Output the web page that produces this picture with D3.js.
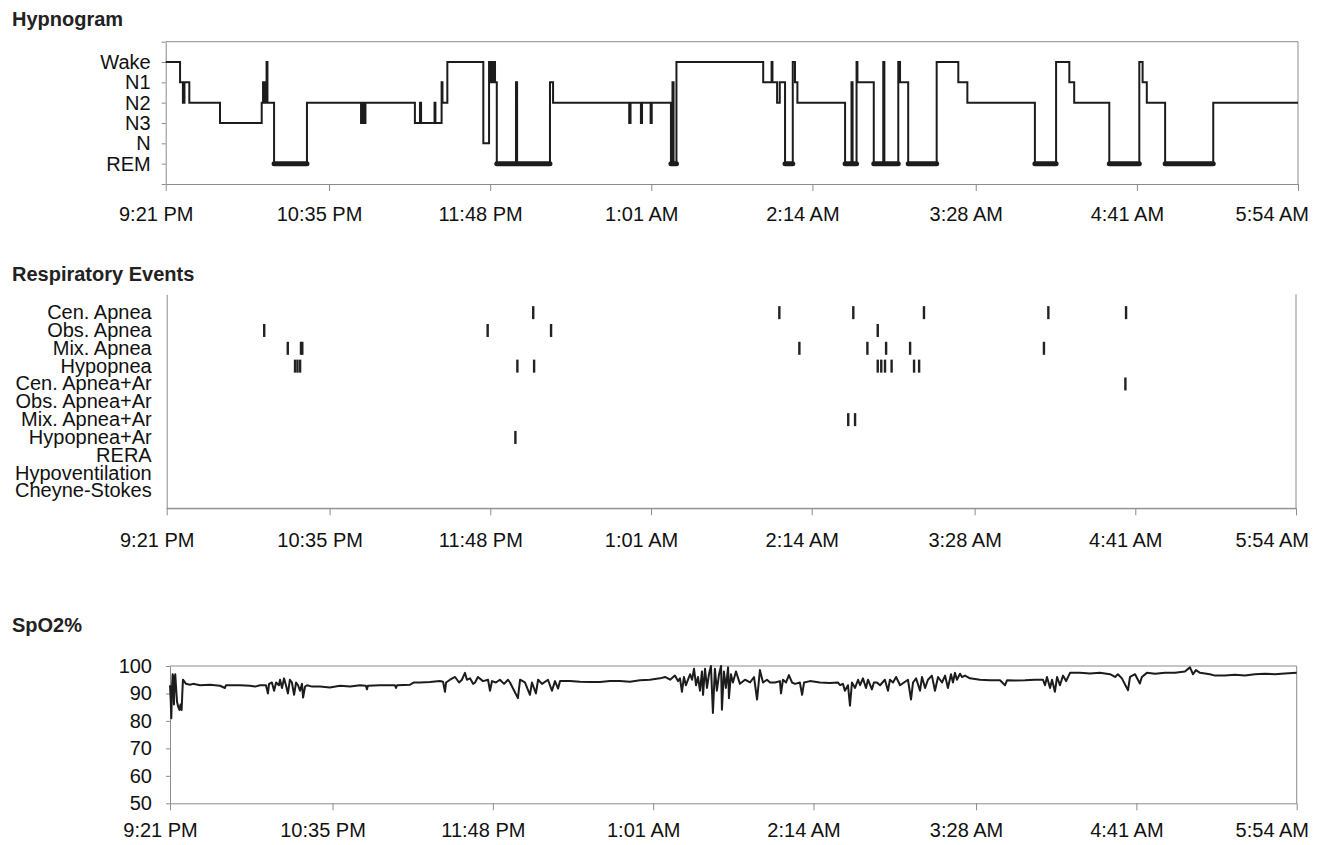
<!DOCTYPE html>
<html>
<head>
<meta charset="utf-8">
<script src="https://cdn.jsdelivr.net/npm/d3@7"></script>
<style>
body { margin: 0; background: #fff; }
text { font-family: "Liberation Sans", Arial, Helvetica, sans-serif; fill: #111; }
</style>
</head>
<body>
<script>
// time axis: minutes after 9:21 PM
var timeLabels = ["9:21 PM", "10:35 PM", "11:48 PM", "1:01 AM", "2:14 AM", "3:28 AM", "4:41 AM", "5:54 AM"];
var timeTicks = [0, 74, 147, 220, 293, 367, 440, 513];

// hypnogram, bottom to top
var stageNames = ["REM", "N", "N3", "N2", "N1", "Wake"];
var hypnogram = [
  [0, "Wake"], [6.5, "N1"], [7.8, "N2"], [8.5, "N1"], [10.7, "N2"], [24.6, "N3"],
  [43.5, "N2"], [44.1, "N1"], [44.8, "N2"], [45.2, "N1"], [45.7, "Wake"], [46.1, "N2"],
  [49.1, "REM"], [64.0, "N2"], [88.5, "N3"], [89.2, "N2"], [89.8, "N3"], [90.5, "N2"],
  [112.9, "N3"], [115.2, "N2"], [115.7, "N3"], [121.8, "N2"], [122.2, "N3"],
  [125.0, "N1"], [125.4, "N2"], [127.6, "Wake"], [143.9, "N"], [146.5, "Wake"],
  [147.2, "N1"], [147.6, "Wake"], [148.3, "N1"], [148.7, "Wake"], [149.2, "N1"],
  [150.0, "REM"], [158.7, "N1"], [159.2, "REM"], [174.1, "N1"], [175.5, "N2"],
  [210.0, "N3"], [210.6, "N2"], [215.3, "N3"], [215.8, "N2"], [219.7, "N3"], [220.2, "N2"],
  [228.9, "REM"], [229.6, "N1"], [230.1, "REM"], [231.4, "Wake"], [270.7, "N1"],
  [274.5, "Wake"], [274.9, "N1"], [277.0, "N2"], [278.2, "N1"], [280.6, "REM"],
  [284.1, "Wake"], [285.1, "N1"], [286.2, "N2"], [307.8, "REM"], [310.7, "N1"],
  [311.2, "REM"], [313.0, "Wake"], [313.4, "N1"], [320.8, "REM"], [325.1, "Wake"],
  [325.6, "REM"], [331.9, "Wake"], [332.7, "N1"], [336.4, "REM"], [349.3, "Wake"],
  [359.1, "N1"], [363.2, "N2"], [393.8, "REM"], [403.4, "Wake"], [409.4, "N1"],
  [411.6, "N2"], [427.5, "REM"], [441.1, "Wake"], [442.6, "N1"], [444.5, "N2"],
  [452.8, "REM"], [474.6, "N2"], [513, "N2"]
];

// respiratory events, top to bottom
var eventTypes = ["Cen. Apnea", "Obs. Apnea", "Mix. Apnea", "Hypopnea", "Cen. Apnea+Ar",
  "Obs. Apnea+Ar", "Mix. Apnea+Ar", "Hypopnea+Ar", "RERA", "Hypoventilation", "Cheyne-Stokes"];
var events = [
  ["Cen. Apnea", 166.5], ["Cen. Apnea", 278.3], ["Cen. Apnea", 311.9], ["Cen. Apnea", 344.0],
  ["Cen. Apnea", 400.5], ["Cen. Apnea", 435.8],
  ["Obs. Apnea", 44.3], ["Obs. Apnea", 145.8], ["Obs. Apnea", 174.6], ["Obs. Apnea", 323.0],
  ["Mix. Apnea", 55.0], ["Mix. Apnea", 61.0], ["Mix. Apnea", 61.6], ["Mix. Apnea", 287.4],
  ["Mix. Apnea", 318.3], ["Mix. Apnea", 326.8], ["Mix. Apnea", 337.7], ["Mix. Apnea", 398.5],
  ["Hypopnea", 58.3], ["Hypopnea", 59.4], ["Hypopnea", 60.6], ["Hypopnea", 159.3],
  ["Hypopnea", 166.9], ["Hypopnea", 323.0], ["Hypopnea", 324.6], ["Hypopnea", 326.3],
  ["Hypopnea", 329.3], ["Hypopnea", 339.5], ["Hypopnea", 341.8],
  ["Cen. Apnea+Ar", 435.5],
  ["Mix. Apnea+Ar", 309.6], ["Mix. Apnea+Ar", 312.7],
  ["Hypopnea+Ar", 158.4]
];

// SpO2 %
var spo2Ticks = [50, 60, 70, 80, 90, 100];
var spo2 = [
  [0, 93], [0.3, 88], [0.6, 81], [0.9, 92], [1.2, 97], [1.5, 96], [1.8, 86], [2.1, 95],
  [2.4, 97], [2.7, 93], [3.2, 87], [3.8, 85], [4.3, 84], [4.8, 86], [5.3, 84], [5.6, 90],
  [5.9, 95], [6.4, 94.5], [7.3, 93.5], [9.1, 93.2], [10.5, 93.5], [13.7, 93], [18.2, 93.2],
  [22.8, 92.8], [25.0, 92], [25.5, 93], [31.9, 93], [36.4, 92.8], [38.7, 92.5], [41.0, 93],
  [43.7, 93], [44.6, 90], [45.1, 93.5], [46.4, 94], [47.4, 91], [48.3, 94], [49.6, 93],
  [50.1, 95], [51.0, 92], [51.9, 95.5], [52.8, 93], [53.7, 90], [54.6, 95], [55.5, 94],
  [56.5, 89.5], [57.4, 94], [58.3, 93], [59.2, 91], [60.1, 93.5], [60.6, 88.5], [61.5, 92.5],
  [62.4, 93], [64.7, 92.5], [68.3, 92.5], [72.8, 92.2], [77.4, 92.8], [82.0, 92.5],
  [86.5, 93], [89.2, 92.8], [89.7, 91.5], [90.1, 92.8], [95.6, 93], [102.4, 93], [102.9, 92],
  [103.4, 93], [109.3, 93.2], [111.1, 94], [113.8, 94], [118.4, 94.2], [122.9, 94.5],
  [124.3, 94.3], [125.2, 90.6], [125.7, 94], [127.5, 95], [129.8, 96], [131.6, 94],
  [132.9, 95], [134.3, 97.5], [135.2, 95], [136.6, 95.5], [138.0, 93.5], [138.9, 94],
  [140.2, 96], [142.5, 94.5], [144.8, 95], [145.7, 91], [146.6, 94.5], [148.4, 94],
  [150.2, 95], [152.1, 93.5], [153.9, 95], [154.8, 94], [158.4, 88.3], [159.4, 95],
  [161.6, 94], [163.9, 89.5], [164.8, 94], [166.6, 90], [167.6, 95], [169.4, 93.5],
  [172.1, 95], [173.9, 91], [175.3, 94.5], [176.7, 91.8], [177.6, 94.5], [182.1, 94.5],
  [186.7, 94.3], [191.2, 94.2], [195.8, 94.2], [200.3, 94.5], [204.9, 94.5], [209.4, 94.3],
  [214.0, 94.8], [218.5, 95], [223.1, 95.5], [225.4, 96], [227.7, 95], [229.9, 96.5],
  [231.3, 94.5], [232.2, 95.5], [233.1, 90.6], [234.0, 96], [234.9, 93], [236.8, 97],
  [237.7, 95], [238.6, 99], [239.5, 93], [240.4, 96], [241.3, 91], [242.2, 98], [242.7, 89.5],
  [243.6, 99], [244.5, 92], [245.4, 97], [246.3, 100], [247.2, 82.9], [248.1, 99], [249.0, 91],
  [250.0, 97], [250.9, 100], [251.3, 84.1], [252.2, 98], [253.1, 92], [254.1, 99.5],
  [254.5, 88.3], [255.4, 97], [256.3, 94], [257.7, 98], [259.5, 93.5], [261.8, 95],
  [264.1, 94], [265.9, 96], [267.3, 87.8], [268.6, 98.5], [270.0, 94], [271.8, 95],
  [273.2, 94], [275.5, 94], [277.7, 94.5], [278.2, 90], [279.1, 95], [280.5, 94],
  [281.8, 96.7], [283.2, 94], [284.6, 93.5], [286.8, 94], [287.8, 89.5], [288.7, 94],
  [291.4, 94.5], [295.9, 94], [300.5, 93.8], [304.1, 94], [305.1, 93], [306.4, 93.5],
  [307.3, 91], [308.7, 93], [309.6, 85.6], [310.5, 94], [311.9, 92], [313.3, 95],
  [314.2, 93], [315.5, 95.5], [316.9, 92], [317.8, 95], [319.6, 91.5], [320.5, 94],
  [321.9, 94], [323.3, 93], [325.5, 95], [326.9, 91], [327.8, 95], [329.2, 94], [330.6, 96],
  [332.4, 93], [336.0, 95], [337.4, 87.8], [338.3, 94], [339.7, 95.5], [341.5, 91],
  [342.4, 96], [343.8, 92], [345.1, 95], [346.9, 96.5], [348.3, 91], [349.7, 96],
  [351.5, 94], [352.9, 96.5], [354.2, 92], [355.6, 97], [356.5, 94], [357.4, 97.5],
  [358.3, 95], [359.7, 97.2], [360.6, 96], [362.0, 96.5], [364.2, 95.5], [368.8, 95],
  [373.3, 94.8], [377.9, 94.8], [380.2, 93], [381.1, 94.8], [384.7, 94.7], [389.3, 94.8],
  [393.8, 95], [397.5, 95], [398.4, 93], [399.3, 96], [400.7, 92], [401.6, 95],
  [402.9, 90.6], [403.9, 96], [405.2, 93], [406.6, 96.5], [408.0, 94.5], [409.8, 97.5],
  [414.3, 97.5], [418.9, 97.3], [423.4, 97.5], [428.0, 97], [430.3, 96], [431.6, 97],
  [433.4, 95.5], [436.2, 91.2], [437.1, 96], [439.4, 97], [440.7, 95], [441.6, 93.6],
  [442.5, 96], [444.8, 97.5], [448.5, 97.2], [453.0, 97.5], [457.6, 97.5], [462.1, 98],
  [464.4, 99.5], [465.8, 97], [467.1, 98.5], [469.0, 97.5], [473.5, 97], [475.8, 96.5],
  [480.3, 96.5], [484.9, 96.8], [489.4, 96.5], [494.0, 97], [498.5, 97.2], [503.1, 97],
  [507.6, 97.3], [513, 97.5]
];

var W = 1323, H = 845;
var frameColor = "#8c8c8c";
var inkColor = "#1c1c1c";

var svg = d3.select("body").append("svg").attr("width", W).attr("height", H);

function title(txt, y) {
  svg.append("text").attr("x", 12).attr("y", y)
    .attr("font-size", 20).attr("font-weight", "bold").style("fill", "#222")
    .text(txt);
}

function frame(x, y) {
  var g = svg.append("g");
  var x0 = x.range()[0], x1 = x.range()[1];
  var y0 = y.range()[0], y1 = y.range()[1];
  g.append("line").attr("x1", x0).attr("x2", x1).attr("y1", y1).attr("y2", y1);
  g.append("line").attr("x1", x1).attr("x2", x1).attr("y1", y1).attr("y2", y0);
  g.selectAll("line").attr("stroke", frameColor).attr("stroke-width", 1);
}

function timeAxis(x, yPos, pad) {
  var g = svg.append("g").attr("transform", "translate(0," + yPos + ")")
    .call(d3.axisBottom(x).tickValues(timeTicks)
      .tickFormat(function (d, i) { return timeLabels[i]; })
      .tickSize(7).tickPadding(pad).tickSizeOuter(0));
  g.select(".domain").attr("stroke", frameColor);
  g.selectAll(".tick line").attr("stroke", frameColor);
  g.selectAll(".tick text").attr("font-size", 20).attr("dx", -10)
    .each(function () {
      var b = this.getBBox();
      var tx = +this.parentNode.getAttribute("transform").match(/translate\(([-\d.]+)/)[1];
      var over = tx + b.x + b.width - 1309;
      if (over > 0) d3.select(this).attr("dx", -10 - over);
    });
}

// ---------- Hypnogram ----------
title("Hypnogram", 26);
var xH = d3.scaleLinear().domain([0, 513]).range([165.7, 1298]);
var yH = d3.scaleLinear().domain([0, 7]).range([184, 41.7]);
function stageVal(s) { return stageNames.indexOf(s) + 1; }

frame(xH, yH);
var gyH = svg.append("g").attr("transform", "translate(165.7,0)")
  .call(d3.axisLeft(yH).tickValues([0, 1, 2, 3, 4, 5, 6, 7])
    .tickFormat(function (d) { return stageNames[d - 1] || ""; })
    .tickSize(4).tickPadding(11).tickSizeOuter(0));
gyH.select(".domain").attr("stroke", frameColor);
gyH.selectAll(".tick line").attr("stroke", frameColor);
gyH.selectAll(".tick text").attr("font-size", 20);
timeAxis(xH, 184, 16);

svg.append("path").datum(hypnogram)
  .attr("fill", "none").attr("stroke", inkColor).attr("stroke-width", 2)
  .attr("d", d3.line().curve(d3.curveStepAfter)
    .x(function (d) { return xH(d[0]); })
    .y(function (d) { return yH(stageVal(d[1])); }));

// REM periods drawn heavy
var remSegs = [];
hypnogram.forEach(function (d, i) {
  if (d[1] === "REM" && i < hypnogram.length - 1) remSegs.push([d[0], hypnogram[i + 1][0]]);
});
svg.append("g").selectAll("line").data(remSegs).join("line")
  .attr("x1", function (d) { return xH(d[0]); })
  .attr("x2", function (d) { return xH(d[1]); })
  .attr("y1", yH(stageVal("REM"))).attr("y2", yH(stageVal("REM")))
  .attr("stroke", inkColor).attr("stroke-width", 5).attr("stroke-linecap", "round");

// ---------- Respiratory Events ----------
title("Respiratory Events", 281);
var xR = d3.scaleLinear().domain([0, 513]).range([166.7, 1296]);
var yR = d3.scaleLinear().domain([-1, 11]).range([294.3, 508.3]);

frame(xR, yR);
var gyR = svg.append("g").attr("transform", "translate(166.7,0)")
  .call(d3.axisLeft(yR).tickValues(d3.range(eventTypes.length))
    .tickFormat(function (d) { return eventTypes[d]; })
    .tickSize(0).tickPadding(15).tickSizeOuter(0));
gyR.select(".domain").attr("stroke", frameColor);
gyR.selectAll(".tick text").attr("font-size", 20);
timeAxis(xR, 508.3, 18);

svg.append("g").selectAll("rect").data(events).join("rect")
  .attr("x", function (d) { return xR(d[1]) - 1.2; })
  .attr("y", function (d) { return yR(eventTypes.indexOf(d[0])) - 6; })
  .attr("width", 2.4).attr("height", 13)
  .attr("fill", "#222");

// ---------- SpO2% ----------
title("SpO2%", 632);
var xS = d3.scaleLinear().domain([0, 513]).range([170, 1296.7]);
var yS = d3.scaleLinear().domain([50, 100]).range([803.3, 666]);

frame(xS, yS);
var gyS = svg.append("g").attr("transform", "translate(170,0)")
  .call(d3.axisLeft(yS).tickValues(spo2Ticks).tickSize(4).tickPadding(14).tickSizeOuter(0));
gyS.select(".domain").attr("stroke", frameColor);
gyS.selectAll(".tick line").attr("stroke", frameColor);
gyS.selectAll(".tick text").attr("font-size", 20);
timeAxis(xS, 803.3, 13);

svg.append("path").datum(spo2)
  .attr("fill", "none").attr("stroke", inkColor).attr("stroke-width", 2)
  .attr("stroke-linejoin", "round")
  .attr("d", d3.line()
    .x(function (d) { return xS(d[0]); })
    .y(function (d) { return yS(d[1]); }));
</script>
</body>
</html>
